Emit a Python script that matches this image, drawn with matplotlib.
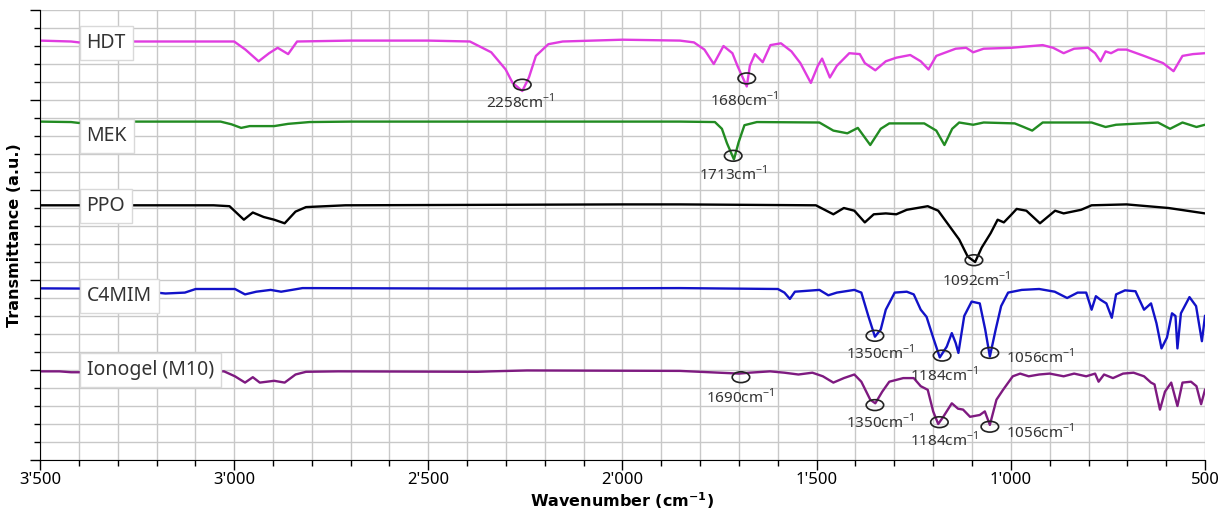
import numpy as np
import matplotlib
matplotlib.use("Agg")
import matplotlib.pyplot as plt
from matplotlib.patches import Ellipse
from matplotlib.ticker import MultipleLocator, FuncFormatter

# wavenumbers (cm-1) and stacked transmittance values (a.u.)
hdt_wn = [3500, 3420, 3400, 3380, 3300, 3200, 3100, 3000, 2971, 2937, 2910, 2888, 2861, 2838,
          2700, 2500, 2393, 2338, 2301, 2283, 2258, 2241, 2223, 2191, 2154, 2000, 1852, 1816,
          1789, 1765, 1740, 1717, 1704, 1680, 1672, 1659, 1639, 1619, 1592, 1565, 1542, 1515,
          1497, 1486, 1466, 1448, 1416, 1389, 1376, 1349, 1322, 1295, 1259, 1232, 1212, 1192,
          1142, 1115, 1097, 1070, 999, 918, 891, 864, 837, 801, 783, 769, 756, 742, 724, 702,
          657, 608, 581, 558, 531, 500]
hdt_t = [4.66, 4.65, 4.64, 4.64, 4.65, 4.65, 4.65, 4.65, 4.56, 4.43, 4.52, 4.58, 4.51, 4.65,
         4.66, 4.66, 4.65, 4.53, 4.34, 4.19, 4.10, 4.25, 4.49, 4.62, 4.65, 4.67, 4.66, 4.64,
         4.56, 4.40, 4.60, 4.52, 4.38, 4.15, 4.38, 4.51, 4.42, 4.61, 4.63, 4.54, 4.41, 4.19,
         4.38, 4.46, 4.25, 4.38, 4.52, 4.51, 4.41, 4.33, 4.43, 4.47, 4.50, 4.43, 4.34, 4.49,
         4.57, 4.58, 4.53, 4.57, 4.58, 4.61, 4.58, 4.52, 4.57, 4.58, 4.52, 4.43, 4.54, 4.52,
         4.56, 4.56, 4.49, 4.41, 4.32, 4.49, 4.51, 4.52]

mek_wn = [3500, 3420, 3400, 3380, 3300, 3035, 3007, 2982, 2960, 2897, 2861, 2806, 2700, 2000,
          1852, 1762, 1744, 1731, 1713, 1701, 1686, 1654, 1493, 1457, 1421, 1394, 1362, 1335,
          1313, 1223, 1192, 1171, 1151, 1133, 1097, 1070, 990, 967, 945, 918, 792, 756, 729,
          621, 590, 558, 522, 500]
mek_t = [3.76, 3.755, 3.745, 3.75, 3.76, 3.76, 3.73, 3.69, 3.71, 3.71, 3.735, 3.755, 3.76, 3.76,
         3.76, 3.755, 3.68, 3.52, 3.34, 3.53, 3.72, 3.755, 3.75, 3.66, 3.63, 3.69, 3.50, 3.68,
         3.74, 3.74, 3.66, 3.50, 3.68, 3.75, 3.725, 3.75, 3.74, 3.70, 3.66, 3.75, 3.75, 3.70, 3.725,
         3.75, 3.68, 3.75, 3.70, 3.725]

ppo_wn = [3500, 3300, 3053, 3012, 2975, 2952, 2924, 2897, 2870, 2842, 2815, 2714, 2000, 1852,
          1502, 1457, 1430, 1403, 1376, 1353, 1322, 1295, 1268, 1214, 1187, 1160, 1133, 1111,
          1092, 1075, 1052, 1034, 1018, 1000, 985, 960, 925, 886, 864, 819, 792, 702, 594, 500]
ppo_t = [2.83, 2.83, 2.83, 2.82, 2.67, 2.75, 2.70, 2.67, 2.63, 2.76, 2.81, 2.83, 2.84, 2.84,
         2.83, 2.73, 2.80, 2.77, 2.64, 2.73, 2.74, 2.73, 2.78, 2.82, 2.77, 2.61, 2.45, 2.26,
         2.20, 2.36, 2.52, 2.67, 2.64, 2.72, 2.79, 2.77, 2.63, 2.77, 2.74, 2.78, 2.83, 2.84, 2.80, 2.74]

c4mim_wn = [3500, 3400, 3380, 3200, 3177, 3127, 3099, 2998, 2972, 2943, 2906, 2879, 2824, 2400,
            2300, 1852, 1600, 1583, 1569, 1556, 1493, 1470, 1448, 1403, 1385, 1367, 1350, 1335,
            1322, 1299, 1268, 1250, 1232, 1217, 1200, 1183, 1165, 1152, 1142, 1135, 1120, 1101,
            1080, 1066, 1054, 1039, 1025, 1007, 972, 927, 887, 855, 828, 806, 792, 781, 769, 754,
            740, 729, 706, 679, 657, 639, 625, 612, 598, 585, 576, 571, 562, 540, 523, 508, 500]
c4mim_t = [1.907, 1.905, 1.90, 1.86, 1.85, 1.86, 1.90, 1.90, 1.84, 1.87, 1.89, 1.87, 1.91, 1.905,
           1.905, 1.91, 1.90, 1.86, 1.79, 1.87, 1.89, 1.83, 1.86, 1.89, 1.86, 1.60, 1.37, 1.45,
           1.67, 1.86, 1.87, 1.84, 1.67, 1.59, 1.36, 1.14, 1.26, 1.41, 1.30, 1.19, 1.60, 1.76,
           1.74, 1.45, 1.15, 1.45, 1.71, 1.86, 1.89, 1.90, 1.87, 1.80, 1.86, 1.86, 1.67, 1.82, 1.78,
           1.74, 1.58, 1.84, 1.885, 1.875, 1.67, 1.74, 1.52, 1.24, 1.36, 1.63, 1.60, 1.24, 1.63,
           1.81, 1.71, 1.32, 1.60]

iono_wn = [3500, 3450, 3420, 3400, 3300, 3026, 2998, 2972, 2952, 2934, 2897, 2870, 2842, 2815,
           2732, 2374, 2338, 2246, 1852, 1700, 1673, 1620, 1583, 1547, 1511, 1484, 1457, 1430,
           1403, 1385, 1362, 1349, 1331, 1313, 1277, 1250, 1232, 1214, 1200, 1187, 1174, 1152,
           1136, 1123, 1105, 1080, 1067, 1054, 1037, 1020, 995, 976, 954, 927, 900, 864, 837,
           806, 783, 774, 760, 737, 711, 684, 657, 639, 630, 616, 603, 587, 571, 558, 536, 522,
           510, 500]
iono_t = [0.985, 0.985, 0.975, 0.975, 0.985, 0.985, 0.93, 0.86, 0.92, 0.86, 0.88, 0.86, 0.95, 0.98,
          0.985, 0.98, 0.985, 0.995, 0.99, 0.96, 0.97, 0.985, 0.97, 0.95, 0.97, 0.93, 0.86, 0.91,
          0.95, 0.87, 0.67, 0.63, 0.76, 0.87, 0.91, 0.91, 0.82, 0.78, 0.54, 0.40, 0.48, 0.63,
          0.57, 0.56, 0.48, 0.50, 0.54, 0.39, 0.67, 0.78, 0.93, 0.96, 0.93, 0.95, 0.96, 0.93, 0.96,
          0.93, 0.96, 0.87, 0.95, 0.91, 0.96, 0.97, 0.93, 0.86, 0.84, 0.56, 0.76, 0.86, 0.60, 0.86,
          0.87, 0.82, 0.62, 0.78]

names = ["HDT", "MEK", "PPO", "C4MIM", "Ionogel (M10)"]
label_y = [4.63, 3.60, 2.82, 1.82, 1.00]

# peak marks: circle position, label position, text
peak_wn = [2258, 1680, 1715, 1095, 1350, 1177, 1054, 1695, 1350, 1184, 1054]
peak_y = [4.17, 4.24, 3.38, 2.22, 1.38, 1.16, 1.19, 0.92, 0.61, 0.42, 0.37]
peak_text_wn = [2262, 1685, 1715, 1090, 1337, 1170, 925, 1697, 1337, 1170, 925]
peak_text_y = [3.97, 4.00, 3.17, 2.00, 1.19, 0.94, 1.14, 0.70, 0.42, 0.22, 0.31]
peak_names = ["2258", "1680", "1713", "1092", "1350", "1184", "1056", "1690", "1350", "1184", "1056"]

fig = plt.figure(figsize=(12.27, 5.15), dpi=100)
ax = fig.add_axes([40 / 1227, 55 / 515, 1165 / 1227, 450 / 515])

ax.plot(hdt_wn, hdt_t, color="#e03ce0", lw=1.7)
ax.plot(mek_wn, mek_t, color="#228b22", lw=1.7)
ax.plot(ppo_wn, ppo_t, color="black", lw=1.7)
ax.plot(c4mim_wn, c4mim_t, color="#1212c8", lw=1.7)
ax.plot(iono_wn, iono_t, color="#7e1a80", lw=1.7)

for name, yy in zip(names, label_y):
    ax.text(3380, yy, name, fontsize=14, family="Noto Sans", color="#333333",
            va="center", ha="left", zorder=5,
            bbox=dict(boxstyle="square,pad=0.35", fc="white", ec="#d9d9d9", lw=1))

for i in range(len(peak_wn)):
    ax.add_patch(Ellipse((peak_wn[i], peak_y[i]), 45, 0.12, fill=False,
                         ec="#222222", lw=1.2, zorder=4))
    ax.text(peak_text_wn[i], peak_text_y[i], peak_names[i] + r"cm$^{\mathregular{-1}}$",
            fontsize=11, family="Noto Sans", color="#333333", ha="center", va="center")

ax.set_xlim(3500, 500)
ax.set_ylim(0, 5)
ax.xaxis.set_major_locator(MultipleLocator(500))
ax.xaxis.set_minor_locator(MultipleLocator(100))
ax.yaxis.set_major_locator(MultipleLocator(1))
ax.yaxis.set_minor_locator(MultipleLocator(0.2))
ax.xaxis.set_major_formatter(FuncFormatter(lambda v, p: f"{int(v):,}".replace(",", "'")))
ax.set_yticklabels([])
ax.grid(True, which="both", color="#c8c8c8", lw=1)
ax.set_axisbelow(True)
ax.tick_params(axis="both", which="major", length=7, width=1, direction="out", pad=2)
ax.tick_params(axis="both", which="minor", length=4, width=1, direction="out")
for lab in ax.get_xticklabels():
    lab.set_family("Noto Sans")
    lab.set_fontsize(12)
ax.spines["top"].set_visible(False)
ax.spines["right"].set_visible(False)

ax.set_xlabel(r"Wavenumber (cm$^{\mathbf{-1}}$)", fontsize=11.5, fontweight="bold", labelpad=1)
ax.set_ylabel("Transmittance (a.u.)", fontsize=11.5, fontweight="bold", labelpad=4)

fig.savefig("out.png", dpi=100)
